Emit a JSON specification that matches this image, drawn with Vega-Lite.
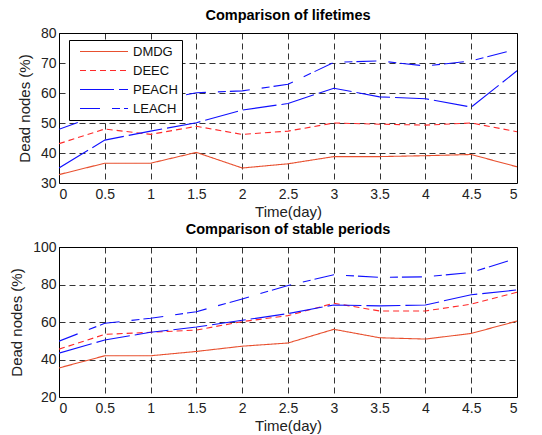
{
  "$schema": "https://vega.github.io/schema/vega-lite/v6.json",
  "background": "white",
  "padding": {"left": 9, "top": 7, "right": 23, "bottom": 0},
  "spacing": 1,
  "config": {
    "font": "Liberation Sans",
    "view": {"stroke": "black", "strokeWidth": 1},
    "title": {"font": "Liberation Sans", "fontSize": 14.5, "fontWeight": "bold", "color": "black", "offset": 3},
    "axis": {
      "labelFont": "Liberation Sans", "labelFontSize": 14, "labelColor": "#222",
      "titleFont": "Liberation Sans", "titleFontSize": 15, "titleFontWeight": "normal", "titleColor": "#222",
      "grid": true, "gridColor": "black", "gridDash": [6, 4], "gridOpacity": 0.8, "gridWidth": 1,
      "domain": false, "tickSize": 0
    },
    "axisX": {"labelPadding": 4, "titlePadding": 3},
    "axisY": {"labelPadding": 3, "titlePadding": 8}
  },
  "vconcat": [
    {
      "title": "Comparison of lifetimes",
      "width": 458, "height": 150,
      "data": {"values": [
        {"t": 0, "v": 32.8, "s": "DMDG"}, {"t": 0.5, "v": 36.6, "s": "DMDG"}, {"t": 1, "v": 36.6, "s": "DMDG"}, {"t": 1.5, "v": 40.2, "s": "DMDG"}, {"t": 2, "v": 35.0, "s": "DMDG"}, {"t": 2.5, "v": 36.4, "s": "DMDG"}, {"t": 3, "v": 38.8, "s": "DMDG"}, {"t": 3.5, "v": 38.8, "s": "DMDG"}, {"t": 4, "v": 39.1, "s": "DMDG"}, {"t": 4.5, "v": 39.5, "s": "DMDG"}, {"t": 5, "v": 35.4, "s": "DMDG"},
        {"t": 0, "v": 43.1, "s": "DEEC"}, {"t": 0.5, "v": 48.0, "s": "DEEC"}, {"t": 1, "v": 46.2, "s": "DEEC"}, {"t": 1.5, "v": 48.9, "s": "DEEC"}, {"t": 2, "v": 46.2, "s": "DEEC"}, {"t": 2.5, "v": 47.3, "s": "DEEC"}, {"t": 3, "v": 50.0, "s": "DEEC"}, {"t": 3.5, "v": 49.6, "s": "DEEC"}, {"t": 4, "v": 49.3, "s": "DEEC"}, {"t": 4.5, "v": 50.0, "s": "DEEC"}, {"t": 5, "v": 47.1, "s": "DEEC"},
        {"t": 0, "v": 35.0, "s": "PEACH"}, {"t": 0.5, "v": 44.3, "s": "PEACH"}, {"t": 1, "v": 47.3, "s": "PEACH"}, {"t": 1.5, "v": 50.1, "s": "PEACH"}, {"t": 2, "v": 54.3, "s": "PEACH"}, {"t": 2.5, "v": 56.5, "s": "PEACH"}, {"t": 3, "v": 61.6, "s": "PEACH"}, {"t": 3.5, "v": 58.7, "s": "PEACH"}, {"t": 4, "v": 58.1, "s": "PEACH"}, {"t": 4.5, "v": 55.3, "s": "PEACH"}, {"t": 5, "v": 67.4, "s": "PEACH"},
        {"t": 0, "v": 47.9, "s": "LEACH"}, {"t": 0.5, "v": 53.5, "s": "LEACH"}, {"t": 1, "v": 57.0, "s": "LEACH"}, {"t": 1.5, "v": 60.1, "s": "LEACH"}, {"t": 2, "v": 60.7, "s": "LEACH"}, {"t": 2.5, "v": 62.9, "s": "LEACH"}, {"t": 3, "v": 70.2, "s": "LEACH"}, {"t": 3.5, "v": 70.7, "s": "LEACH"}, {"t": 4, "v": 69.0, "s": "LEACH"}, {"t": 4.5, "v": 70.7, "s": "LEACH"}, {"t": 5, "v": 74.6, "s": "LEACH"}
      ]},
      "mark": {"type": "line", "strokeWidth": 1.1, "clip": true},
      "encoding": {
        "x": {"field": "t", "type": "quantitative", "scale": {"domain": [0, 5], "nice": false}, "axis": {"values": [0, 0.5, 1, 1.5, 2, 2.5, 3, 3.5, 4, 4.5, 5], "format": "~g", "title": "Time(day)"}},
        "y": {"field": "v", "type": "quantitative", "scale": {"domain": [30, 80], "nice": false, "zero": false}, "axis": {"values": [30, 40, 50, 60, 70, 80], "title": "Dead nodes (%)"}},
        "color": {"field": "s", "type": "nominal", "scale": {"domain": ["DMDG", "DEEC", "PEACH", "LEACH"], "range": ["#e8502f", "#ff2a2a", "#1010ff", "#1010ff"]},
          "legend": {"title": null, "orient": "none", "legendX": 10, "legendY": 7, "strokeColor": "black", "fillColor": "white", "padding": 4, "symbolOffset": 6, "cornerRadius": 0, "symbolType": "stroke", "symbolSize": 2304, "symbolStrokeWidth": 1.2, "clipHeight": 15, "labelFont": "Liberation Sans", "labelFontSize": 13, "labelColor": "#111", "rowPadding": 4, "labelOffset": 4, "labelExpr": "datum.label + '\u00a0\u00a0\u00a0\u00a0\u00a0\u00a0\u00a0'"}},
        "strokeDash": {"field": "s", "type": "nominal", "scale": {"domain": ["DMDG", "DEEC", "PEACH", "LEACH"], "range": [[1, 0], [6, 4], [34, 5], [20, 12, 8, 4]]}, "legend": null}
      }
    },
    {
      "title": "Comparison of stable periods",
      "width": 458, "height": 150,
      "data": {"values": [
        {"t": 0, "v": 35.5, "s": "DMDG"}, {"t": 0.5, "v": 42.0, "s": "DMDG"}, {"t": 1, "v": 42.0, "s": "DMDG"}, {"t": 1.5, "v": 44.3, "s": "DMDG"}, {"t": 2, "v": 47.1, "s": "DMDG"}, {"t": 2.5, "v": 48.8, "s": "DMDG"}, {"t": 3, "v": 56.1, "s": "DMDG"}, {"t": 3.5, "v": 51.6, "s": "DMDG"}, {"t": 4, "v": 50.9, "s": "DMDG"}, {"t": 4.5, "v": 53.9, "s": "DMDG"}, {"t": 5, "v": 60.5, "s": "DMDG"},
        {"t": 0, "v": 45.5, "s": "DEEC"}, {"t": 0.5, "v": 53.4, "s": "DEEC"}, {"t": 1, "v": 54.5, "s": "DEEC"}, {"t": 1.5, "v": 55.7, "s": "DEEC"}, {"t": 2, "v": 60.2, "s": "DEEC"}, {"t": 2.5, "v": 63.4, "s": "DEEC"}, {"t": 3, "v": 70.0, "s": "DEEC"}, {"t": 3.5, "v": 65.9, "s": "DEEC"}, {"t": 4, "v": 65.9, "s": "DEEC"}, {"t": 4.5, "v": 69.5, "s": "DEEC"}, {"t": 5, "v": 75.9, "s": "DEEC"},
        {"t": 0, "v": 43.4, "s": "PEACH"}, {"t": 0.5, "v": 50.4, "s": "PEACH"}, {"t": 1, "v": 54.5, "s": "PEACH"}, {"t": 1.5, "v": 57.3, "s": "PEACH"}, {"t": 2, "v": 60.9, "s": "PEACH"}, {"t": 2.5, "v": 64.5, "s": "PEACH"}, {"t": 3, "v": 69.1, "s": "PEACH"}, {"t": 3.5, "v": 68.6, "s": "PEACH"}, {"t": 4, "v": 69.1, "s": "PEACH"}, {"t": 4.5, "v": 74.5, "s": "PEACH"}, {"t": 5, "v": 77.1, "s": "PEACH"},
        {"t": 0, "v": 49.8, "s": "LEACH"}, {"t": 0.5, "v": 59.3, "s": "LEACH"}, {"t": 1, "v": 62.0, "s": "LEACH"}, {"t": 1.5, "v": 65.5, "s": "LEACH"}, {"t": 2, "v": 72.3, "s": "LEACH"}, {"t": 2.5, "v": 79.5, "s": "LEACH"}, {"t": 3, "v": 85.2, "s": "LEACH"}, {"t": 3.5, "v": 83.8, "s": "LEACH"}, {"t": 4, "v": 84.1, "s": "LEACH"}, {"t": 4.5, "v": 86.4, "s": "LEACH"}, {"t": 5, "v": 94.1, "s": "LEACH"}
      ]},
      "mark": {"type": "line", "strokeWidth": 1.1, "clip": true},
      "encoding": {
        "x": {"field": "t", "type": "quantitative", "scale": {"domain": [0, 5], "nice": false}, "axis": {"values": [0, 0.5, 1, 1.5, 2, 2.5, 3, 3.5, 4, 4.5, 5], "format": "~g", "title": "Time(day)"}},
        "y": {"field": "v", "type": "quantitative", "scale": {"domain": [20, 100], "nice": false, "zero": false}, "axis": {"values": [20, 40, 60, 80, 100], "title": "Dead nodes (%)"}},
        "color": {"field": "s", "type": "nominal", "scale": {"domain": ["DMDG", "DEEC", "PEACH", "LEACH"], "range": ["#e8502f", "#ff2a2a", "#1010ff", "#1010ff"]}, "legend": null},
        "strokeDash": {"field": "s", "type": "nominal", "scale": {"domain": ["DMDG", "DEEC", "PEACH", "LEACH"], "range": [[1, 0], [6, 4], [34, 5], [20, 12, 8, 4]]}, "legend": null}
      }
    }
  ],
  "resolve": {"scale": {"color": "independent", "strokeDash": "independent"}, "legend": {"color": "independent"}}
}
